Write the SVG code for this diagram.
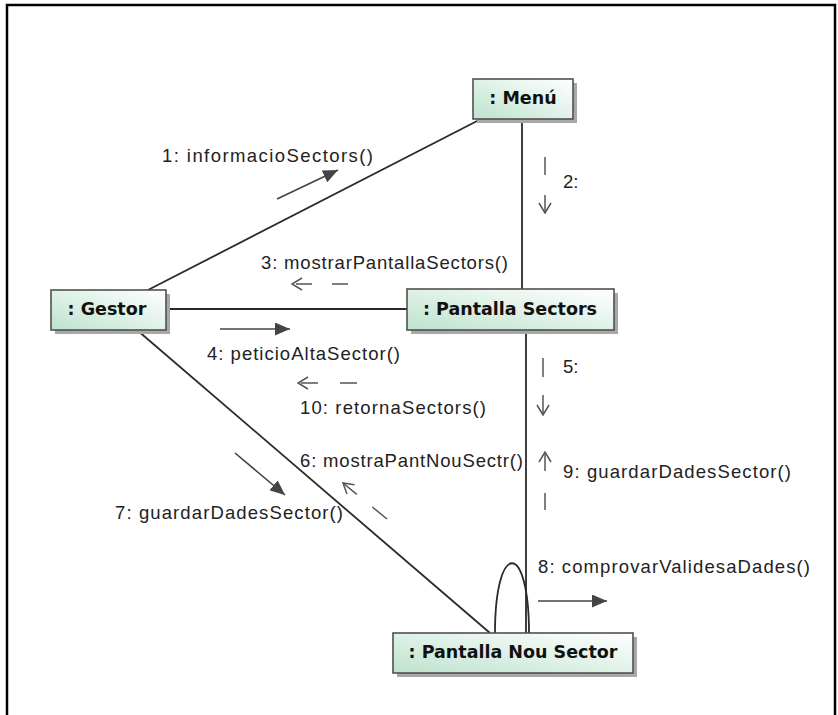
<svg xmlns="http://www.w3.org/2000/svg" width="838" height="715" viewBox="0 0 838 715">
<style>
.frame{stroke:#000;stroke-width:2.5;fill:none}
.link{stroke:#2a2a2a;stroke-width:1.8;fill:none}
.msg{stroke:#444;stroke-width:1.6;fill:none}
.ret{stroke:#555;stroke-width:1.5;fill:none}
.box{fill:url(#g);stroke:#505050;stroke-width:1.6}
.shadow{fill:#a8a8a8}
.nl{font-family:"DejaVu Sans",sans-serif;font-weight:bold;font-size:17.5px;fill:#111;text-anchor:middle}
.lbl{font-family:"Liberation Sans",Arial,sans-serif;font-size:18.5px;fill:#222}
</style>
<defs>
<linearGradient id="g" x1="0" y1="1" x2="1" y2="0">
<stop offset="0" stop-color="#bde2cd"/>
<stop offset="0.55" stop-color="#e2f3ea"/>
<stop offset="1" stop-color="#ffffff"/>
</linearGradient>
<marker id="fa" viewBox="0 0 15 13" refX="15" refY="6.5" markerWidth="15" markerHeight="13" markerUnits="userSpaceOnUse" orient="auto">
<path d="M0,0 L15,6.5 L0,13 z" fill="#444"/>
</marker>
<marker id="oa" viewBox="0 0 12 14" refX="11" refY="7" markerWidth="12" markerHeight="14" markerUnits="userSpaceOnUse" orient="auto">
<path d="M1,1 L11,7 L1,13" fill="none" stroke="#555" stroke-width="1.5"/>
</marker>
</defs>
<rect width="838" height="715" fill="#fff"/>
<path class="frame" d="M7,715 L7,5 L835,5 L835,715"/>

<g id="connectors">
<line class="link" x1="481" y1="119" x2="148" y2="290"/>
<line class="link" x1="522" y1="119" x2="522" y2="289"/>
<line class="link" x1="166" y1="309" x2="407" y2="309"/>
<line class="link" x1="137" y1="330" x2="490" y2="633"/>
<line class="link" x1="526" y1="330" x2="526" y2="633"/>
<path class="link" d="M495,633 C495,540 529,540 529,633"/>

<g id="m1"><line class="msg" x1="277" y1="199" x2="338" y2="170" marker-end="url(#fa)"/>
<text class="lbl" x="162" y="162" textLength="211" lengthAdjust="spacing">1: informacioSectors()</text></g>
<g id="m2"><line class="ret" x1="545" y1="157" x2="545" y2="213" stroke-dasharray="18 20" marker-end="url(#oa)"/>
<text class="lbl" x="563" y="188">2:</text></g>
<g id="m3"><line class="ret" x1="348" y1="284" x2="292" y2="284" stroke-dasharray="16 20" marker-end="url(#oa)"/>
<text class="lbl" x="261" y="269" textLength="247" lengthAdjust="spacing">3: mostrarPantallaSectors()</text></g>
<g id="m4"><line class="msg" x1="220" y1="329" x2="290" y2="329" marker-end="url(#fa)"/>
<text class="lbl" x="207" y="360" textLength="193" lengthAdjust="spacing">4: peticioAltaSector()</text></g>
<g id="m10"><line class="ret" x1="357" y1="383" x2="298" y2="383" stroke-dasharray="17 22" marker-end="url(#oa)"/>
<text class="lbl" x="300" y="414" textLength="186" lengthAdjust="spacing">10: retornaSectors()</text></g>
<g id="m5"><line class="ret" x1="543" y1="358" x2="543" y2="415" stroke-dasharray="19 18" marker-end="url(#oa)"/>
<text class="lbl" x="563" y="373">5:</text></g>
<g id="m9"><line class="ret" x1="545" y1="510" x2="545" y2="452" stroke-dasharray="17 22" marker-end="url(#oa)"/>
<text class="lbl" x="563" y="478" textLength="228" lengthAdjust="spacing">9: guardarDadesSector()</text></g>
<g id="m6"><line class="ret" x1="387" y1="519" x2="343" y2="483" stroke-dasharray="19 20" marker-end="url(#oa)"/>
<text class="lbl" x="300" y="467" textLength="223" lengthAdjust="spacing">6: mostraPantNouSectr()</text></g>
<g id="m7"><line class="msg" x1="235" y1="453" x2="285" y2="495" marker-end="url(#fa)"/>
<text class="lbl" x="115" y="519" textLength="228" lengthAdjust="spacing">7: guardarDadesSector()</text></g>
<g id="m8"><line class="msg" x1="538" y1="601" x2="607" y2="601" marker-end="url(#fa)"/>
<text class="lbl" x="538" y="573" textLength="272" lengthAdjust="spacing">8: comprovarValidesaDades()</text></g>
</g>

<g id="menu">
<rect class="shadow" x="477" y="83" width="100" height="40"/>
<rect class="box" x="473" y="79" width="100" height="40"/>
<text class="nl" x="523" y="104">: Menú</text>
</g>
<g id="gestor">
<rect class="shadow" x="55" y="294" width="115" height="40"/>
<rect class="box" x="51" y="290" width="115" height="40"/>
<text class="nl" x="107" y="315">: Gestor</text>
</g>
<g id="pantallaSectors">
<rect class="shadow" x="411" y="293" width="207" height="41"/>
<rect class="box" x="407" y="289" width="207" height="41"/>
<text class="nl" x="510" y="315">: Pantalla Sectors</text>
</g>
<g id="pantallaNouSector">
<rect class="shadow" x="397" y="637" width="240" height="40"/>
<rect class="box" x="393" y="633" width="240" height="40"/>
<text class="nl" x="513" y="658">: Pantalla Nou Sector</text>
</g>
</svg>
